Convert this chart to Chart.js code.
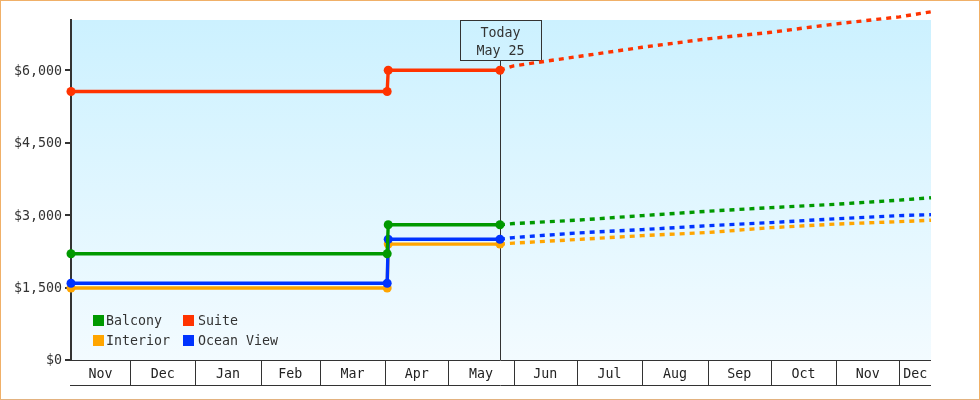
<!DOCTYPE html>
<html>
<head>
<meta charset="utf-8">
<style>
  html, body { margin: 0; padding: 0; background: #fff; }
  #wrap { position: relative; width: 980px; height: 400px; box-sizing: border-box;
          border: 1px solid #f0b068; border-bottom-color: #e3b27f; }
  canvas { position: absolute; left: -1px; top: -1px; }
</style>
<script src="https://cdn.jsdelivr.net/npm/chart.js@4"></script>
</head>
<body>
<div id="wrap"><canvas id="chart" width="980" height="400"></canvas></div>
<script>
// x values are days since Nov 3
const monthLabels = ['Nov','Dec','Jan','Feb','Mar','Apr','May','Jun','Jul','Aug','Sep','Oct','Nov','Dec'];
const monthStarts = [0, 28, 59, 90, 118, 149, 179, 210, 240, 271, 302, 332, 363, 393, 408];
const yTicks = [0, 1500, 3000, 4500, 6000];
const todayDay = 203.5;
const todayLabels = ['Today', 'May 25'];

const pastDays = [0, 150, 150.5, 203.5];
const balconyPast = [2200, 2200, 2800, 2800];
const suitePast = [5560, 5560, 6000, 6000];
const interiorPast = [1490, 1490, 2400, 2400];
const oceanPast = [1590, 1590, 2500, 2500];

const futureDays = [203.5, 210, 240, 271, 302, 332, 363, 393, 408];
const balconyFuture = [2800, 2825, 2895, 2990, 3080, 3155, 3225, 3310, 3360];
const suiteFuture = [6000, 6090, 6280, 6475, 6650, 6785, 6960, 7105, 7210];
const interiorFuture = [2400, 2420, 2495, 2575, 2640, 2740, 2815, 2865, 2895];
const oceanFuture = [2500, 2535, 2630, 2700, 2780, 2845, 2925, 2990, 3010];

const INK = '#333333';
const FAMILY = '"DejaVu Sans Mono", monospace';
const FONT = '13.3px ' + FAMILY;

function pts(days, vals) {
  return days.map((d, i) => ({ x: d, y: vals[i] }));
}

function past(label, vals, color, order) {
  return { label, data: pts(pastDays, vals), borderColor: color, backgroundColor: color,
    borderWidth: 3.4, pointRadius: 4.5, pointHoverRadius: 4.5, pointBorderWidth: 0, tension: 0, order, clip: false };
}

function future(label, vals, color, order) {
  return { label, data: pts(futureDays, vals), borderColor: color, borderWidth: 3.4,
    borderDash: [5, 5], pointRadius: 0, tension: 0, order, clip: false };
}

const bgAndToday = {
  id: 'bgAndToday',
  // gradient goes down first so the y axis line stays on top of it
  beforeDraw(chart) {
    const { ctx, chartArea: a } = chart;
    const g = ctx.createLinearGradient(0, a.top, 0, a.bottom);
    g.addColorStop(0, '#ccf1ff');
    g.addColorStop(1, '#f3fbff');
    ctx.save();
    ctx.fillStyle = g;
    ctx.fillRect(a.left, a.top, a.right - a.left, a.bottom - a.top);
    ctx.restore();
  },
  beforeDatasetsDraw(chart) {
    const { ctx, chartArea: a, scales } = chart;
    ctx.save();

    // month strip under the plot
    ctx.strokeStyle = INK;
    ctx.lineWidth = 1;
    ctx.beginPath();
    ctx.moveTo(a.left - 1, a.bottom + 0.5);
    ctx.lineTo(a.right, a.bottom + 0.5);
    ctx.moveTo(a.left - 1, 385.5);
    ctx.lineTo(a.right, 385.5);
    monthStarts.slice(1, -1).forEach(d => {
      const x = Math.round(scales.x.getPixelForValue(d)) + 0.5;
      ctx.moveTo(x, a.bottom);
      ctx.lineTo(x, 385);
    });
    ctx.stroke();

    // today marker
    const tx = Math.round(scales.x.getPixelForValue(todayDay)) + 0.5;
    ctx.beginPath();
    ctx.moveTo(tx, 60);
    ctx.lineTo(tx, a.bottom);
    ctx.stroke();
    ctx.strokeRect(tx - 40, 20.5, 81, 40);
    ctx.fillStyle = INK;
    ctx.font = FONT;
    ctx.textAlign = 'center';
    ctx.textBaseline = 'middle';
    ctx.fillText(todayLabels[0], tx, 34);
    ctx.fillText(todayLabels[1], tx, 52);
    ctx.restore();
  },
  afterDatasetsDraw(chart) {
    // legend sits inside the plot, two columns
    const { ctx } = chart;
    const spots = [[93, 321], [183, 321], [93, 341], [183, 341]];
    ctx.save();
    ctx.font = FONT;
    ctx.textBaseline = 'middle';
    ctx.textAlign = 'left';
    spots.forEach((s, i) => {
      const ds = chart.data.datasets[i];
      ctx.fillStyle = ds.borderColor;
      ctx.fillRect(s[0], s[1] - 6, 11, 11);
      ctx.fillStyle = INK;
      ctx.fillText(ds.label, s[0] + (i % 2 ? 15 : 13), s[1] + 1);
    });
    ctx.restore();
  }
};

new Chart(document.getElementById('chart'), {
  type: 'line',
  data: {
    datasets: [
      past('Balcony', balconyPast, '#009900', 2),
      past('Suite', suitePast, '#ff3300', 1),
      past('Interior', interiorPast, '#ffa500', 4),
      past('Ocean View', oceanPast, '#0033ff', 3),
      future('Balcony forecast', balconyFuture, '#009900', 2),
      future('Suite forecast', suiteFuture, '#ff3300', 1),
      future('Interior forecast', interiorFuture, '#ffa500', 4),
      future('Ocean View forecast', oceanFuture, '#0033ff', 3)
    ]
  },
  plugins: [bgAndToday],
  options: {
    responsive: false,
    animation: false,
    devicePixelRatio: 1,
    layout: { padding: { top: 20, right: 49, left: 0, bottom: 0 } },
    plugins: { legend: { display: false }, tooltip: { enabled: false } },
    scales: {
      x: {
        type: 'linear',
        min: 0,
        max: 408,
        afterFit(s) { s.height = 40; },
        afterBuildTicks(s) {
          s.ticks = monthLabels.map((_, i) => ({ value: (monthStarts[i] + monthStarts[i + 1]) / 2 }));
        },
        grid: { display: false, drawTicks: false },
        border: { display: false },
        ticks: {
          autoSkip: false,
          maxRotation: 0,
          padding: 7,
          color: '#222',
          font: { family: FAMILY, size: 13.3 },
          callback: (v, i) => monthLabels[i]
        }
      },
      y: {
        min: 0,
        max: 7040,
        afterFit(s) { s.width = 71; },
        afterBuildTicks(s) { s.ticks = yTicks.map(v => ({ value: v })); },
        grid: { drawOnChartArea: false, color: INK, lineWidth: 2, tickLength: 6 },
        border: { color: INK, width: 2 },
        ticks: {
          padding: 3,
          labelOffset: 1,
          color: INK,
          font: { family: FAMILY, size: 13.3 },
          callback: v => '$' + v.toLocaleString('en-US')
        }
      }
    }
  }
});
</script>
</body>
</html>
